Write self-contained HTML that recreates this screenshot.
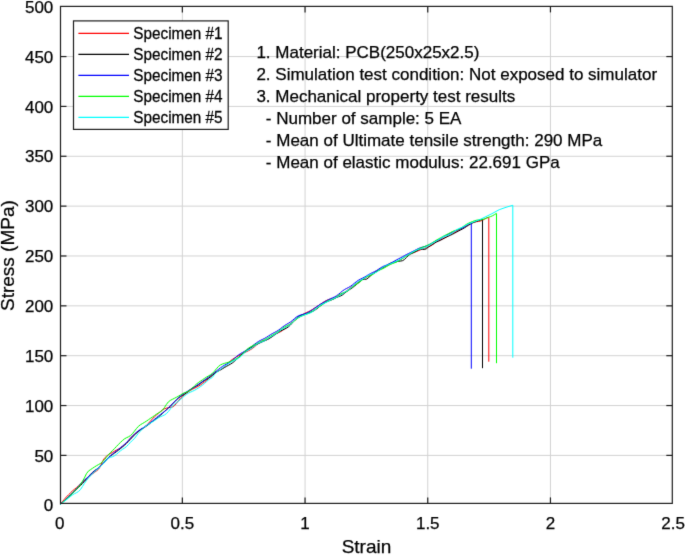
<!DOCTYPE html>
<html><head><meta charset="utf-8"><style>
html,body{margin:0;padding:0;background:#fff;width:685px;height:555px;overflow:hidden}
svg{display:block;will-change:transform}
text{font-family:"Liberation Sans",sans-serif;stroke:#000;stroke-width:0.25px}
</style></head><body>
<svg width="685" height="555" viewBox="0 0 685 555">
<defs><filter id="bl" x="0" y="0" width="685" height="555" filterUnits="userSpaceOnUse" color-interpolation-filters="sRGB"><feConvolveMatrix order="3" kernelMatrix="0.0100 0.0800 0.0100 0.0800 0.6400 0.0800 0.0100 0.0800 0.0100" edgeMode="duplicate" preserveAlpha="true"/></filter></defs>
<g filter="url(#bl)">
<rect width="685" height="555" fill="#fff"/>
<g stroke="#d2d2d2" stroke-width="1" fill="none"><line x1="182.35" y1="6.4" x2="182.35" y2="503.4"/><line x1="305.05" y1="6.4" x2="305.05" y2="503.4"/><line x1="427.75" y1="6.4" x2="427.75" y2="503.4"/><line x1="550.45" y1="6.4" x2="550.45" y2="503.4"/><line x1="60.5" y1="455.40" x2="672.3" y2="455.40"/><line x1="60.5" y1="405.55" x2="672.3" y2="405.55"/><line x1="60.5" y1="355.69" x2="672.3" y2="355.69"/><line x1="60.5" y1="305.84" x2="672.3" y2="305.84"/><line x1="60.5" y1="255.98" x2="672.3" y2="255.98"/><line x1="60.5" y1="206.13" x2="672.3" y2="206.13"/><line x1="60.5" y1="156.27" x2="672.3" y2="156.27"/><line x1="60.5" y1="106.42" x2="672.3" y2="106.42"/><line x1="60.5" y1="56.56" x2="672.3" y2="56.56"/></g>
<g font-size="17" fill="#000"><text x="256.40" y="58.20">1. Material: PCB(250x25x2.5)</text><text x="256.40" y="79.90">2. Simulation test condition: Not exposed to simulator</text><text x="256.40" y="101.60">3. Mechanical property test results</text><text x="265.85" y="124.20">- Number of sample: 5 EA</text><text x="265.85" y="146.00">- Mean of Ultimate tensile strength: 290 MPa</text><text x="265.85" y="167.80">- Mean of elastic modulus: 22.691 GPa</text></g>
<g fill="none" stroke-width="1" stroke-linejoin="round"><path d="M60.40,504.30 L62.40,501.73 L64.40,499.25 L66.40,496.95 L68.40,494.91 L70.40,492.94 L72.40,490.96 L74.40,489.32 L76.40,487.72 L78.40,485.95 L80.40,484.13 L82.40,482.33 L84.40,480.57 L86.40,478.84 L88.40,477.12 L90.40,475.46 L92.40,473.87 L94.40,472.42 L96.40,470.98 L98.40,469.35 L100.40,466.50 L102.40,461.59 L104.40,458.27 L106.40,456.33 L108.40,454.61 L110.40,453.53 L112.40,452.43 L114.40,451.23 L116.40,450.13 L118.40,449.09 L120.40,447.89 L122.40,446.50 L124.40,444.85 L126.40,442.81 L128.40,440.51 L130.40,438.19 L132.40,436.12 L134.40,434.36 L136.40,432.79 L138.40,431.38 L140.40,430.06 L142.40,428.78 L144.40,427.28 L146.40,425.47 L148.40,423.39 L150.40,421.14 L152.40,418.90 L154.40,416.88 L156.40,415.04 L158.40,413.29 L160.40,411.59 L162.40,409.93 L164.40,408.77 L166.40,408.13 L168.40,407.75 L170.40,407.31 L172.40,406.97 L174.40,405.67 L176.40,403.35 L178.40,400.73 L180.40,398.27 L182.40,396.31 L184.40,394.70 L186.40,393.19 L188.40,391.73 L190.40,390.38 L192.40,389.23 L194.40,388.26 L196.40,387.32 L198.40,386.25 L200.40,384.96 L202.40,383.52 L204.40,382.02 L206.40,380.43 L208.40,378.75 L210.40,376.95 L212.40,375.15 L214.40,373.49 L216.40,372.06 L218.40,370.91 L220.40,369.80 L222.40,368.52 L224.40,366.78 L226.40,364.78 L228.40,362.77 L230.40,360.92 L232.40,359.42 L234.40,358.11 L236.40,356.89 L238.40,355.76 L240.40,354.66 L242.40,353.65 L244.40,352.69 L246.40,351.75 L248.40,350.76 L250.40,349.70 L252.40,348.45 L254.40,346.87 L256.40,345.01 L258.40,343.20 L260.40,341.84 L262.40,341.06 L264.40,340.59 L266.40,340.01 L268.40,339.00 L270.40,337.54 L272.40,335.97 L274.40,334.59 L276.40,333.53 L278.40,332.66 L280.40,331.74 L282.40,330.54 L284.40,328.99 L286.40,327.20 L288.40,325.38 L290.40,323.70 L292.40,322.17 L294.40,320.68 L296.40,319.17 L298.40,317.61 L300.40,316.10 L302.40,314.70 L304.40,313.51 L306.40,312.56 L308.40,311.70 L310.40,310.72 L312.40,309.53 L314.40,308.23 L316.40,306.91 L318.40,305.61 L320.40,304.27 L322.40,302.91 L324.40,301.61 L326.40,300.50 L328.40,299.70 L330.40,299.14 L332.40,298.61 L334.40,297.88 L336.40,296.91 L338.40,295.85 L340.40,294.77 L342.40,293.67 L344.40,292.45 L346.40,291.04 L348.40,289.46 L350.40,287.83 L352.40,286.27 L354.40,284.82 L356.40,283.43 L358.40,282.09 L360.40,280.76 L362.40,279.46 L364.40,278.25 L366.40,277.12 L368.40,276.08 L370.40,275.06 L372.40,274.03 L374.40,272.91 L376.40,271.65 L378.40,270.29 L380.40,268.95 L382.40,267.80 L384.40,266.84 L386.40,265.97 L388.40,265.05 L390.40,264.03 L392.40,263.02 L394.40,262.14 L396.40,261.41 L398.40,260.66 L400.40,259.69 L402.40,258.41 L404.40,256.98 L406.40,255.64 L408.40,254.57 L410.40,253.65 L412.40,252.89 L414.40,252.21 L416.40,251.47 L418.40,250.69 L420.40,249.89 L422.40,249.14 L424.40,248.43 L426.40,247.68 L428.40,246.85 L430.40,245.91 L432.40,244.76 L434.40,243.25 L436.40,241.80 L438.40,240.74 L440.40,239.92 L442.40,239.09 L444.40,238.18 L446.40,237.14 L448.40,235.94 L450.40,234.71 L452.40,233.60 L454.40,232.61 L456.40,231.66 L458.40,230.61 L460.40,229.44 L462.40,228.23 L464.40,227.01 L466.40,225.85 L468.40,224.74 L470.40,223.71 L472.40,222.78 L474.40,222.10 L476.40,221.71 L478.40,221.45 L480.40,221.07 L482.40,220.33 L484.40,219.26 L486.40,218.17 L488.40,217.27 L488.80,217.70 L488.80,361.70" stroke="#ff0000"/><path d="M60.40,504.30 L62.40,502.57 L64.40,500.77 L66.40,498.92 L68.40,497.03 L70.40,495.10 L72.40,493.18 L74.40,491.30 L76.40,489.48 L78.40,487.60 L80.40,485.62 L82.40,483.55 L84.40,481.38 L86.40,479.10 L88.40,476.74 L90.40,474.47 L92.40,472.47 L94.40,470.84 L96.40,469.49 L98.40,468.14 L100.40,466.53 L102.40,464.51 L104.40,462.20 L106.40,459.87 L108.40,457.80 L110.40,456.06 L112.40,454.57 L114.40,453.17 L116.40,451.73 L118.40,450.21 L120.40,448.63 L122.40,446.98 L124.40,445.26 L126.40,443.38 L128.40,441.37 L130.40,439.26 L132.40,437.15 L134.40,435.06 L136.40,433.05 L138.40,431.28 L140.40,429.81 L142.40,428.59 L144.40,427.42 L146.40,426.14 L148.40,424.67 L150.40,423.10 L152.40,421.56 L154.40,420.11 L156.40,418.67 L158.40,417.10 L160.40,415.32 L162.40,413.41 L164.40,411.50 L166.40,409.68 L168.40,407.92 L170.40,406.07 L172.40,404.05 L174.40,401.93 L176.40,399.85 L178.40,398.03 L180.40,396.60 L182.40,395.43 L184.40,394.24 L186.40,392.77 L188.40,391.09 L190.40,389.45 L192.40,388.10 L194.40,387.05 L196.40,386.06 L198.40,384.86 L200.40,383.41 L202.40,381.90 L204.40,380.56 L206.40,379.40 L208.40,378.27 L210.40,376.92 L212.40,375.32 L214.40,373.67 L216.40,372.21 L218.40,370.99 L220.40,369.89 L222.40,368.78 L224.40,367.59 L226.40,366.40 L228.40,365.30 L230.40,364.19 L232.40,362.92 L234.40,361.32 L236.40,359.42 L238.40,357.40 L240.40,355.50 L242.40,353.83 L244.40,352.31 L246.40,350.87 L248.40,349.45 L250.40,348.06 L252.40,346.80 L254.40,345.67 L256.40,344.62 L258.40,343.62 L260.40,342.67 L262.40,341.76 L264.40,340.89 L266.40,339.98 L268.40,338.98 L270.40,337.81 L272.40,336.50 L274.40,335.10 L276.40,333.68 L278.40,332.31 L280.40,331.09 L282.40,330.06 L284.40,329.16 L286.40,328.19 L288.40,326.85 L290.40,325.04 L292.40,322.79 L294.40,320.38 L296.40,318.21 L298.40,316.60 L300.40,315.62 L302.40,314.95 L304.40,314.36 L306.40,313.75 L308.40,313.11 L310.40,312.39 L312.40,311.53 L314.40,310.44 L316.40,309.09 L318.40,307.50 L320.40,305.84 L322.40,304.30 L324.40,303.00 L326.40,301.95 L328.40,301.10 L330.40,300.34 L332.40,299.56 L334.40,298.64 L336.40,297.54 L338.40,296.72 L340.40,296.02 L342.40,294.96 L344.40,293.38 L346.40,291.77 L348.40,290.33 L350.40,289.09 L352.40,287.74 L354.40,286.17 L356.40,284.54 L358.40,282.84 L360.40,281.12 L362.40,279.63 L364.40,279.27 L366.40,279.19 L368.40,277.92 L370.40,275.82 L372.40,274.10 L374.40,272.74 L376.40,271.44 L378.40,270.27 L380.40,269.17 L382.40,268.07 L384.40,266.88 L386.40,265.56 L388.40,264.28 L390.40,263.21 L392.40,262.48 L394.40,262.07 L396.40,261.76 L398.40,261.29 L400.40,261.08 L402.40,260.74 L404.40,259.59 L406.40,257.53 L408.40,255.48 L410.40,254.13 L412.40,253.22 L414.40,252.28 L416.40,251.19 L418.40,250.04 L420.40,249.04 L422.40,249.16 L424.40,249.55 L426.40,248.74 L428.40,247.08 L430.40,245.72 L432.40,244.57 L434.40,243.23 L436.40,242.04 L438.40,241.18 L440.40,240.30 L442.40,239.21 L444.40,238.07 L446.40,237.05 L448.40,236.14 L450.40,235.26 L452.40,234.31 L454.40,233.26 L456.40,232.16 L458.40,231.08 L460.40,230.05 L462.40,229.02 L464.40,227.87 L466.40,226.61 L468.40,225.31 L470.40,224.13 L472.40,223.06 L474.40,222.15 L476.40,221.40 L478.40,220.72 L480.40,220.04 L482.40,219.24 L482.50,220.30 L482.50,368.20" stroke="#000000"/><path d="M60.40,504.30 L62.40,502.48 L64.40,500.61 L66.40,498.70 L68.40,496.79 L70.40,494.91 L72.40,493.05 L74.40,491.09 L76.40,488.93 L78.40,486.55 L80.40,484.15 L82.40,481.96 L84.40,480.09 L86.40,478.42 L88.40,476.73 L90.40,474.91 L92.40,473.00 L94.40,471.16 L96.40,469.47 L98.40,467.86 L100.40,466.16 L102.40,464.19 L104.40,461.97 L106.40,459.68 L108.40,457.57 L110.40,455.73 L112.40,454.09 L114.40,452.57 L116.40,451.00 L118.40,449.40 L120.40,447.77 L122.40,446.13 L124.40,444.44 L126.40,442.60 L128.40,440.55 L130.40,438.37 L132.40,436.21 L134.40,434.18 L136.40,432.36 L138.40,430.80 L140.40,429.47 L142.40,428.23 L144.40,426.95 L146.40,425.58 L148.40,424.14 L150.40,422.63 L152.40,421.06 L154.40,419.42 L156.40,417.73 L158.40,416.07 L160.40,414.52 L162.40,413.08 L164.40,411.62 L166.40,409.97 L168.40,408.04 L170.40,405.93 L172.40,403.79 L174.40,401.78 L176.40,399.84 L178.40,397.93 L180.40,396.12 L182.40,394.49 L184.40,393.12 L186.40,391.93 L188.40,390.82 L190.40,389.65 L192.40,388.37 L194.40,387.02 L196.40,385.63 L198.40,384.25 L200.40,382.86 L202.40,381.47 L204.40,380.06 L206.40,378.60 L208.40,377.12 L210.40,375.59 L212.40,374.05 L214.40,372.50 L216.40,370.97 L218.40,369.43 L220.40,367.90 L222.40,366.48 L224.40,365.23 L226.40,364.15 L228.40,363.08 L230.40,361.83 L232.40,360.28 L234.40,358.49 L236.40,356.68 L238.40,355.06 L240.40,353.70 L242.40,352.54 L244.40,351.38 L246.40,350.14 L248.40,348.81 L250.40,347.38 L252.40,345.90 L254.40,344.38 L256.40,342.88 L258.40,341.53 L260.40,340.40 L262.40,339.44 L264.40,338.47 L266.40,337.35 L268.40,336.06 L270.40,334.74 L272.40,333.55 L274.40,332.50 L276.40,331.45 L278.40,330.21 L280.40,328.74 L282.40,327.16 L284.40,325.70 L286.40,324.45 L288.40,323.30 L290.40,322.04 L292.40,320.47 L294.40,318.69 L296.40,317.04 L298.40,315.80 L300.40,315.04 L302.40,314.49 L304.40,313.92 L306.40,313.17 L308.40,312.22 L310.40,311.09 L312.40,309.79 L314.40,308.39 L316.40,306.96 L318.40,305.57 L320.40,304.26 L322.40,303.06 L324.40,301.91 L326.40,300.77 L328.40,299.70 L330.40,298.74 L332.40,297.89 L334.40,296.99 L336.40,295.86 L338.40,294.42 L340.40,292.74 L342.40,291.06 L344.40,289.64 L346.40,288.52 L348.40,287.52 L350.40,286.36 L352.40,284.91 L354.40,283.24 L356.40,281.61 L358.40,280.25 L360.40,279.17 L362.40,278.19 L364.40,277.15 L366.40,275.96 L368.40,274.74 L370.40,273.62 L372.40,272.64 L374.40,271.70 L376.40,270.61 L378.40,269.33 L380.40,267.97 L382.40,266.77 L384.40,265.84 L386.40,265.11 L388.40,264.36 L390.40,263.42 L392.40,262.28 L394.40,261.07 L396.40,259.92 L398.40,258.88 L400.40,257.88 L402.40,256.80 L404.40,255.66 L406.40,254.57 L408.40,253.59 L410.40,252.59 L412.40,251.60 L414.40,250.60 L416.40,249.54 L418.40,248.53 L420.40,247.71 L422.40,247.12 L424.40,246.61 L426.40,245.96 L428.40,245.06 L430.40,244.00 L432.40,242.90 L434.40,241.69 L436.40,240.63 L438.40,239.78 L440.40,238.82 L442.40,237.59 L444.40,236.31 L446.40,235.20 L448.40,234.22 L450.40,233.27 L452.40,232.31 L454.40,231.34 L456.40,230.45 L458.40,229.66 L460.40,228.89 L462.40,228.02 L464.40,226.87 L466.40,225.51 L468.40,224.10 L470.40,222.88 L471.30,223.60 L471.30,368.70" stroke="#0000ff"/><path d="M60.40,504.30 L62.40,502.51 L64.40,500.82 L66.40,499.16 L68.40,497.35 L70.40,495.30 L72.40,493.17 L74.40,491.19 L76.40,489.30 L78.40,487.19 L80.40,484.69 L82.40,481.42 L84.40,477.93 L86.40,473.77 L88.40,471.10 L90.40,469.71 L92.40,468.37 L94.40,467.05 L96.40,465.76 L98.40,464.65 L100.40,463.53 L102.40,461.99 L104.40,459.80 L106.40,457.27 L108.40,454.83 L110.40,452.64 L112.40,450.67 L114.40,448.67 L116.40,446.54 L118.40,444.43 L120.40,442.47 L122.40,440.60 L124.40,438.92 L126.40,437.78 L128.40,436.86 L130.40,435.66 L132.40,433.76 L134.40,431.24 L136.40,428.61 L138.40,426.35 L140.40,424.76 L142.40,423.58 L144.40,422.42 L146.40,421.16 L148.40,419.77 L150.40,418.38 L152.40,417.04 L154.40,415.63 L156.40,414.21 L158.40,413.04 L160.40,411.85 L162.40,410.31 L164.40,407.64 L166.40,404.44 L168.40,401.85 L170.40,400.37 L172.40,399.32 L174.40,398.32 L176.40,397.29 L178.40,396.20 L180.40,395.02 L182.40,393.78 L184.40,392.85 L186.40,392.14 L188.40,391.28 L190.40,389.97 L192.40,388.09 L194.40,386.03 L196.40,384.14 L198.40,382.55 L200.40,381.20 L202.40,379.85 L204.40,378.44 L206.40,377.13 L208.40,375.99 L210.40,374.84 L212.40,373.38 L214.40,371.27 L216.40,368.80 L218.40,366.53 L220.40,364.93 L222.40,364.04 L224.40,363.38 L226.40,362.81 L228.40,362.23 L230.40,361.52 L232.40,360.61 L234.40,359.66 L236.40,358.68 L238.40,357.56 L240.40,356.18 L242.40,354.26 L244.40,352.01 L246.40,349.87 L248.40,348.26 L250.40,347.01 L252.40,345.93 L254.40,344.91 L256.40,343.89 L258.40,342.84 L260.40,341.79 L262.40,340.77 L264.40,339.77 L266.40,338.69 L268.40,337.52 L270.40,336.29 L272.40,335.07 L274.40,333.90 L276.40,332.70 L278.40,331.39 L280.40,329.92 L282.40,328.42 L284.40,327.06 L286.40,325.94 L288.40,324.97 L290.40,323.92 L292.40,322.58 L294.40,320.94 L296.40,319.25 L298.40,317.79 L300.40,316.66 L302.40,315.76 L304.40,314.97 L306.40,314.20 L308.40,313.35 L310.40,312.35 L312.40,311.13 L314.40,309.79 L316.40,308.43 L318.40,307.13 L320.40,305.85 L322.40,304.54 L324.40,303.16 L326.40,301.84 L328.40,300.77 L330.40,300.00 L332.40,299.32 L334.40,298.38 L336.40,297.03 L338.40,295.46 L340.40,294.07 L342.40,293.08 L344.40,292.38 L346.40,291.58 L348.40,290.32 L350.40,288.64 L352.40,286.91 L354.40,285.44 L356.40,284.23 L358.40,283.01 L360.40,281.51 L362.40,279.79 L364.40,278.20 L366.40,277.05 L368.40,276.31 L370.40,275.63 L372.40,274.67 L374.40,273.37 L376.40,271.95 L378.40,270.71 L380.40,269.71 L382.40,268.82 L384.40,267.84 L386.40,266.68 L388.40,265.50 L390.40,264.46 L392.40,263.63 L394.40,262.89 L396.40,262.05 L398.40,261.03 L400.40,259.85 L402.40,258.57 L404.40,257.30 L406.40,256.08 L408.40,254.92 L410.40,253.67 L412.40,252.46 L414.40,251.34 L416.40,250.24 L418.40,249.18 L420.40,248.20 L422.40,247.35 L424.40,246.58 L426.40,245.77 L428.40,244.85 L430.40,243.87 L432.40,242.79 L434.40,241.44 L436.40,240.09 L438.40,238.96 L440.40,237.87 L442.40,236.74 L444.40,235.67 L446.40,234.70 L448.40,233.68 L450.40,232.59 L452.40,231.57 L454.40,230.72 L456.40,230.05 L458.40,229.33 L460.40,228.37 L462.40,227.12 L464.40,225.71 L466.40,224.39 L468.40,223.30 L470.40,222.41 L472.40,221.55 L474.40,220.77 L476.40,220.22 L478.40,219.94 L480.40,219.82 L482.40,219.50 L484.40,218.85 L486.40,218.07 L488.40,217.36 L490.40,216.67 L492.40,215.82 L494.40,214.70 L496.40,213.39 L496.50,215.00 L496.50,363.20" stroke="#00ff00"/><path d="M60.40,504.30 L62.40,502.71 L64.40,501.21 L66.40,499.73 L68.40,498.15 L70.40,496.54 L72.40,494.96 L74.40,493.71 L76.40,492.75 L78.40,491.56 L80.40,489.63 L82.40,486.60 L84.40,483.43 L86.40,480.59 L88.40,478.05 L90.40,475.83 L92.40,473.85 L94.40,471.96 L96.40,470.12 L98.40,468.36 L100.40,466.59 L102.40,464.63 L104.40,462.42 L106.40,460.19 L108.40,458.29 L110.40,457.29 L112.40,456.76 L114.40,455.82 L116.40,454.37 L118.40,452.66 L120.40,450.88 L122.40,449.40 L124.40,448.13 L126.40,446.63 L128.40,444.61 L130.40,442.37 L132.40,440.36 L134.40,438.64 L136.40,435.88 L138.40,433.30 L140.40,431.10 L142.40,428.98 L144.40,427.22 L146.40,425.70 L148.40,424.40 L150.40,423.18 L152.40,421.94 L154.40,420.62 L156.40,419.21 L158.40,417.84 L160.40,416.76 L162.40,415.93 L164.40,415.01 L166.40,413.64 L168.40,411.50 L170.40,408.89 L172.40,406.33 L174.40,404.33 L176.40,402.73 L178.40,401.20 L180.40,399.57 L182.40,397.77 L184.40,395.97 L186.40,394.39 L188.40,393.14 L190.40,392.19 L192.40,391.32 L194.40,390.38 L196.40,389.27 L198.40,388.01 L200.40,386.65 L202.40,385.19 L204.40,383.55 L206.40,381.75 L208.40,379.95 L210.40,378.65 L212.40,377.37 L214.40,374.60 L216.40,372.49 L218.40,371.12 L220.40,369.59 L222.40,367.98 L224.40,366.41 L226.40,364.99 L228.40,363.71 L230.40,362.50 L232.40,361.40 L234.40,360.44 L236.40,359.50 L238.40,358.35 L240.40,356.79 L242.40,354.88 L244.40,352.92 L246.40,351.28 L248.40,350.07 L250.40,348.99 L252.40,347.70 L254.40,346.10 L256.40,344.45 L258.40,343.12 L260.40,342.27 L262.40,341.66 L264.40,340.89 L266.40,339.75 L268.40,338.35 L270.40,336.99 L272.40,335.81 L274.40,334.71 L276.40,333.46 L278.40,331.97 L280.40,330.38 L282.40,328.97 L284.40,327.88 L286.40,326.93 L288.40,325.81 L290.40,324.29 L292.40,322.38 L294.40,320.38 L296.40,318.66 L298.40,317.39 L300.40,316.47 L302.40,315.68 L304.40,314.92 L306.40,314.23 L308.40,313.60 L310.40,312.86 L312.40,311.78 L314.40,310.28 L316.40,308.50 L318.40,306.74 L320.40,305.26 L322.40,304.16 L324.40,303.25 L326.40,302.30 L328.40,301.24 L330.40,300.13 L332.40,299.13 L334.40,298.26 L336.40,297.40 L338.40,296.40 L340.40,295.19 L342.40,293.82 L344.40,292.46 L346.40,291.17 L348.40,289.84 L350.40,288.30 L352.40,286.51 L354.40,284.63 L356.40,282.91 L358.40,281.53 L360.40,280.39 L362.40,279.27 L364.40,278.01 L366.40,276.64 L368.40,275.41 L370.40,274.45 L372.40,273.75 L374.40,273.06 L376.40,272.06 L378.40,270.69 L380.40,269.11 L382.40,267.62 L384.40,266.41 L386.40,265.44 L388.40,264.60 L390.40,263.76 L392.40,262.90 L394.40,262.04 L396.40,261.19 L398.40,260.29 L400.40,259.26 L402.40,258.08 L404.40,256.85 L406.40,255.68 L408.40,254.60 L410.40,253.42 L412.40,252.22 L414.40,251.12 L416.40,250.14 L418.40,249.40 L420.40,248.89 L422.40,248.46 L424.40,247.85 L426.40,246.90 L428.40,245.67 L430.40,244.42 L432.40,243.29 L434.40,242.08 L436.40,240.91 L438.40,239.81 L440.40,238.58 L442.40,237.31 L444.40,236.33 L446.40,235.75 L448.40,235.21 L450.40,234.32 L452.40,232.97 L454.40,231.35 L456.40,229.88 L458.40,228.78 L460.40,227.98 L462.40,227.20 L464.40,226.20 L466.40,225.04 L468.40,223.95 L480.00,219.50 L491.90,213.70 L499.20,209.70 L506.00,207.30 L512.80,205.30 L512.80,357.70" stroke="#00ffff"/></g>
<g stroke="#1c1c1c" stroke-width="1.2" fill="none">
<rect x="60.5" y="6.4" width="611.8" height="497.0"/>
<line x1="182.35" y1="503.4" x2="182.35" y2="497.4"/><line x1="182.35" y1="6.4" x2="182.35" y2="12.4"/><line x1="305.05" y1="503.4" x2="305.05" y2="497.4"/><line x1="305.05" y1="6.4" x2="305.05" y2="12.4"/><line x1="427.75" y1="503.4" x2="427.75" y2="497.4"/><line x1="427.75" y1="6.4" x2="427.75" y2="12.4"/><line x1="550.45" y1="503.4" x2="550.45" y2="497.4"/><line x1="550.45" y1="6.4" x2="550.45" y2="12.4"/><line x1="60.5" y1="455.40" x2="66.5" y2="455.40"/><line x1="672.3" y1="455.40" x2="666.3" y2="455.40"/><line x1="60.5" y1="405.55" x2="66.5" y2="405.55"/><line x1="672.3" y1="405.55" x2="666.3" y2="405.55"/><line x1="60.5" y1="355.69" x2="66.5" y2="355.69"/><line x1="672.3" y1="355.69" x2="666.3" y2="355.69"/><line x1="60.5" y1="305.84" x2="66.5" y2="305.84"/><line x1="672.3" y1="305.84" x2="666.3" y2="305.84"/><line x1="60.5" y1="255.98" x2="66.5" y2="255.98"/><line x1="672.3" y1="255.98" x2="666.3" y2="255.98"/><line x1="60.5" y1="206.13" x2="66.5" y2="206.13"/><line x1="672.3" y1="206.13" x2="666.3" y2="206.13"/><line x1="60.5" y1="156.27" x2="66.5" y2="156.27"/><line x1="672.3" y1="156.27" x2="666.3" y2="156.27"/><line x1="60.5" y1="106.42" x2="66.5" y2="106.42"/><line x1="672.3" y1="106.42" x2="666.3" y2="106.42"/><line x1="60.5" y1="56.56" x2="66.5" y2="56.56"/><line x1="672.3" y1="56.56" x2="666.3" y2="56.56"/>
</g>
<g font-size="17" fill="#000"><text x="53.3" y="511.36" text-anchor="end">0</text><text x="53.3" y="461.50" text-anchor="end">50</text><text x="53.3" y="411.65" text-anchor="end">100</text><text x="53.3" y="361.80" text-anchor="end">150</text><text x="53.3" y="311.94" text-anchor="end">200</text><text x="53.3" y="262.08" text-anchor="end">250</text><text x="53.3" y="212.23" text-anchor="end">300</text><text x="53.3" y="162.37" text-anchor="end">350</text><text x="53.3" y="112.52" text-anchor="end">400</text><text x="53.3" y="62.66" text-anchor="end">450</text><text x="53.3" y="13.00" text-anchor="end">500</text><text x="59.65" y="528.8" text-anchor="middle">0</text><text x="182.35" y="528.8" text-anchor="middle">0.5</text><text x="305.05" y="528.8" text-anchor="middle">1</text><text x="427.75" y="528.8" text-anchor="middle">1.5</text><text x="550.45" y="528.8" text-anchor="middle">2</text><text x="673.15" y="528.8" text-anchor="middle">2.5</text></g>
<text x="366.5" y="553.4" font-size="19" text-anchor="middle" fill="#000">Strain</text>
<text transform="translate(14.4,255.6) rotate(-90)" x="0" y="0" font-size="19" text-anchor="middle" fill="#000">Stress (MPa)</text>
<g>
<rect x="73.5" y="20.9" width="154.7" height="108.5" fill="#fff" stroke="#1c1c1c" stroke-width="1.2"/>
<g stroke-width="1.2"><line x1="78.4" y1="33.40" x2="129" y2="33.40" stroke="#ff0000"/><line x1="78.4" y1="54.37" x2="129" y2="54.37" stroke="#000000"/><line x1="78.4" y1="75.34" x2="129" y2="75.34" stroke="#0000ff"/><line x1="78.4" y1="96.31" x2="129" y2="96.31" stroke="#00ff00"/><line x1="78.4" y1="117.28" x2="129" y2="117.28" stroke="#00ffff"/></g>
<g font-size="15.3" fill="#000"><text transform="translate(133.3,39.10) scale(1,1.08)">Specimen #1</text><text transform="translate(133.3,60.07) scale(1,1.08)">Specimen #2</text><text transform="translate(133.3,81.04) scale(1,1.08)">Specimen #3</text><text transform="translate(133.3,102.01) scale(1,1.08)">Specimen #4</text><text transform="translate(133.3,122.98) scale(1,1.08)">Specimen #5</text></g>
</g>
</g>
</svg>
</body></html>
